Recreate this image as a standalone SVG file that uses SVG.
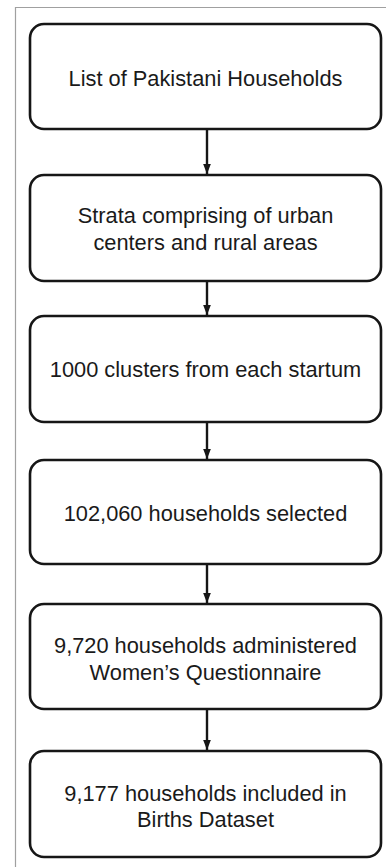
<svg xmlns="http://www.w3.org/2000/svg" width="386" height="867" viewBox="0 0 386 867">
<style>
.box{fill:#fff;stroke:#161616;stroke-width:2.6}
.t{font-family:"Liberation Sans",Arial,sans-serif;font-size:21.8px;fill:#1a1a1a;text-anchor:middle}
.c{stroke:#161616;stroke-width:2.4;fill:none;marker-end:url(#ah)}
.frame{stroke:#a0a0a0;stroke-width:1.2;fill:none}
</style>
<defs>
<marker id="ah" markerWidth="10" markerHeight="13" refX="13" refY="5" orient="auto" markerUnits="userSpaceOnUse" viewBox="0 0 13 10">
<path d="M0,0 L13,5 L0,10 Z" fill="#161616"/>
</marker>
</defs>
<rect width="386" height="867" fill="#fff"/>
<path class="frame" d="M15.5,867 V7.5 H386"/>
<g id="n1"><rect class="box" x="30" y="24" width="351" height="105" rx="14"/><text class="t" x="205.5" y="86">List of Pakistani Households</text></g>
<g id="n2"><rect class="box" x="30" y="175" width="351" height="106" rx="14"/><text class="t" x="205.5" y="223">Strata comprising of urban</text><text class="t" x="205.5" y="250">centers and rural areas</text></g>
<g id="n3"><rect class="box" x="30" y="316" width="351" height="106" rx="14"/><text class="t" x="205.5" y="377">1000 clusters from each startum</text></g>
<g id="n4"><rect class="box" x="30" y="460" width="351" height="104" rx="14"/><text class="t" x="205.5" y="521">102,060 households selected</text></g>
<g id="n5"><rect class="box" x="30" y="604" width="351" height="105" rx="14"/><text class="t" x="205.5" y="653">9,720 households administered</text><text class="t" x="205.5" y="680">Women’s Questionnaire</text></g>
<g id="n6"><rect class="box" x="30" y="751" width="351" height="106" rx="14"/><text class="t" x="205.5" y="801">9,177 households included in</text><text class="t" x="205.5" y="827">Births Dataset</text></g>
<g id="connectors">
<path class="c" d="M207,130 V174"/>
<path class="c" d="M207,282 V315"/>
<path class="c" d="M207,423 V459"/>
<path class="c" d="M207,565 V603"/>
<path class="c" d="M207,710 V750"/>
</g>
</svg>
